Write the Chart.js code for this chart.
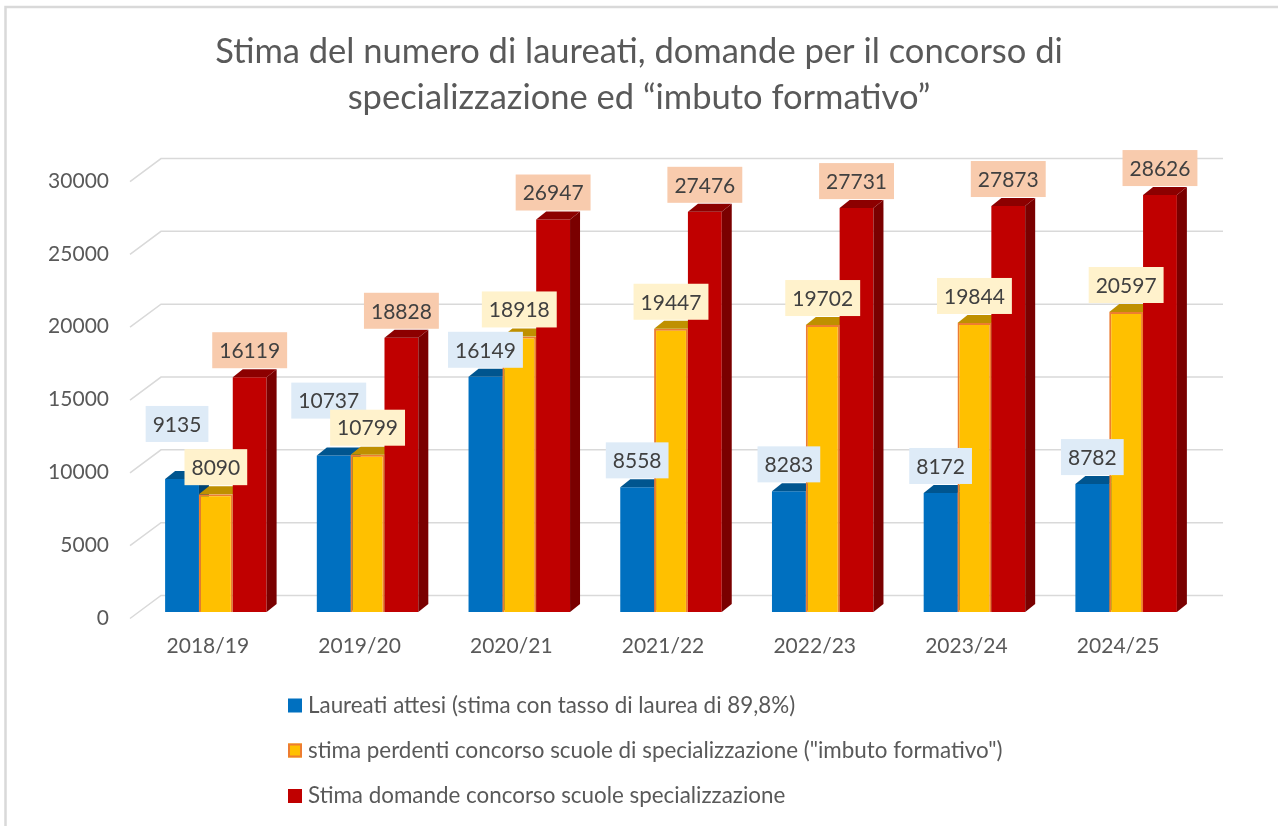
<!DOCTYPE html>
<html><head><meta charset="utf-8">
<script src="https://cdn.jsdelivr.net/npm/chart.js@4"></script>
<style>html,body{margin:0;padding:0;background:#fff}#wrap{position:relative;width:1278px;height:826px}</style>
</head><body><div id="wrap"><canvas id="c"></canvas></div>
<script>
// ---- data ----
const categories = ['2018/19','2019/20','2020/21','2021/22','2022/23','2023/24','2024/25'];
const laureatiAttesi = [9135, 10737, 16149, 8558, 8283, 8172, 8782];
const perdentiConcorso = [8090, 10799, 18918, 19447, 19702, 19844, 20597];
const domandeConcorso = [16119, 18828, 26947, 27476, 27731, 27873, 28626];
const seriesLabels = [
  'Laureati attesi (stima con tasso di laurea di 89,8%)',
  'stima perdenti concorso scuole di specializzazione ("imbuto formativo")',
  'Stima domande concorso scuole specializzazione'
];
const titleLines = ['Stima del numero di laureati, domande per il concorso di', 'specializzazione ed \u201cimbuto formativo\u201d'];
const yTickValues = [0, 5000, 10000, 15000, 20000, 25000, 30000];
const yTickLabels = ['0', '5000', '10000', '15000', '20000', '25000', '30000'];

// ---- style ----
const FONT = 'Lato, "Open Sans", sans-serif';
const faces = [
  {front:'#0070c0', top:'#00558f', side:'#004474', label:'#deebf7', border:'#0070c0', bw:0},
  {front:'#ffc000', top:'#bf9000', side:'#a67c00', label:'#fff2cc', border:'#ed7d31', bw:2},
  {front:'#c00000', top:'#8c0000', side:'#7a0000', label:'#f8cbad', border:'#c00000', bw:0}
];
const DX = 10, DY = 8;

function poly(ctx, pts){ctx.beginPath();ctx.moveTo(pts[0][0],pts[0][1]);for(let k=1;k<pts.length;k++)ctx.lineTo(pts[k][0],pts[k][1]);ctx.closePath();ctx.fill();}
function overlap(a,b){return a.x<b.x+b.w && b.x<a.x+a.w && a.y<b.y+b.h && b.y<a.y+a.h;}

const bars3d = {
  id:'bars3d',
  beforeDatasetsDraw(chart){
    const ctx = chart.ctx, ys = chart.scales.y, area = chart.chartArea;
    ctx.save();
    // back wall gridlines with perspective
    ctx.strokeStyle = '#d9d9d9'; ctx.lineWidth = 1.5;
    ys.ticks.forEach(t => {
      const py = ys.getPixelForValue(t.value);
      ctx.beginPath();
      ctx.moveTo(area.left - 10, py + 6.5);
      ctx.lineTo(area.left + 21, py - 16.5);
      ctx.lineTo(area.right + 21, py - 16.5);
      ctx.stroke();
    });
    const metas = chart.data.datasets.map((d,i) => chart.getDatasetMeta(i));
    for (let i = 0; i < categories.length; i++) {
      metas.forEach((m, d) => {
        const el = m.data[i];
        const p = el.getProps(['x','y','base','width'], true);
        const l = p.x - p.width/2, r = p.x + p.width/2;
        el.draw(ctx, area);
        ctx.fillStyle = faces[d].side;
        poly(ctx, [[r,p.y],[r+DX,p.y-DY],[r+DX,p.base-DY],[r,p.base]]);
        ctx.fillStyle = faces[d].top;
        poly(ctx, [[l,p.y],[r,p.y],[r+DX,p.y-DY],[l+DX,p.y-DY]]);
      });
    }
    // data labels
    ctx.font = '21px ' + FONT;
    ctx.textAlign = 'center'; ctx.textBaseline = 'middle';
    for (let i = 0; i < categories.length; i++) {
      const boxes = metas.map((m, d) => {
        const p = m.data[i].getProps(['x','y'], true);
        const v = chart.data.datasets[d].data[i];
        const txt = String(v);
        const w = ctx.measureText(txt).width + 14, h = 36;
        return {txt, w, h, x: p.x - w/2, y: p.y - 9 - h, d};
      });
      if (overlap(boxes[0], boxes[1])) { boxes[0].y -= 28; boxes[0].x -= 5; }
      boxes.forEach(b => {
        ctx.fillStyle = faces[b.d].label;
        ctx.fillRect(b.x, b.y, b.w, b.h);
        ctx.fillStyle = '#404040';
        ctx.fillText(b.txt, b.x + b.w/2, b.y + b.h/2 + 1);
      });
    }
    ctx.restore();
    return false;
  },
  afterDraw(chart){
    const ctx = chart.ctx;
    ctx.save();
    // outer frame (top and left visible)
    ctx.strokeStyle = '#d9d9d9'; ctx.lineWidth = 2.5;
    ctx.beginPath(); ctx.moveTo(5.5, 826); ctx.lineTo(5.5, 7); ctx.lineTo(1278, 7); ctx.stroke();
    // legend
    ctx.font = '22.4px ' + FONT; ctx.textAlign = 'left'; ctx.textBaseline = 'middle';
    const rowY = [705.5, 750.5, 796];
    chart.data.datasets.forEach((ds, d) => {
      const cy = rowY[d];
      ctx.fillStyle = ds.backgroundColor;
      ctx.fillRect(288, cy - 7, 14, 14);
      if (ds.borderWidth) { ctx.strokeStyle = ds.borderColor; ctx.lineWidth = 2; ctx.strokeRect(289, cy - 6, 12, 12); }
      ctx.fillStyle = '#595959';
      ctx.fillText(ds.label, 308, cy);
    });
    ctx.restore();
  }
};

new Chart(document.getElementById('c'), {
  type: 'bar',
  data: {
    labels: categories,
    datasets: [laureatiAttesi, perdentiConcorso, domandeConcorso].map((vals, d) => ({
      label: seriesLabels[d], data: vals,
      backgroundColor: faces[d].front, borderColor: faces[d].border, borderWidth: faces[d].bw,
      barPercentage: 1.0, categoryPercentage: 0.669
    }))
  },
  options: {
    responsive: true, maintainAspectRatio: false, animation: false,
    layout: {padding: {left: 0, right: 0, top: 0, bottom: 168}},
    plugins: {
      legend: {display: false}, tooltip: {enabled: false},
      title: {display: true, text: titleLines, color: '#595959',
        font: {family: FONT, size: 34.5, weight: 'normal', lineHeight: 1.334},
        padding: {top: 29, bottom: 54}}
    },
    scales: {
      x: {grid: {display: false, drawTicks: false}, border: {display: false},
        ticks: {color: '#595959', font: {family: FONT, size: 21}, padding: 22, labelOffset: -8, autoSkip: false, maxRotation: 0},
        afterFit: s => { s.height = 46; }},
      y: {min: 0, max: 30000, grid: {display: false, drawTicks: false}, border: {display: false},
        afterBuildTicks: s => { s.ticks = yTickValues.map(v => ({value: v})); },
        ticks: {color: '#595959', font: {family: FONT, size: 21}, padding: 31, labelOffset: 6,
          callback: (v) => yTickLabels[yTickValues.indexOf(v)]},
        afterFit: s => { s.width = 140; }},
      spacer: {position: 'right', display: true, grid: {display: false, drawTicks: false}, border: {display: false},
        ticks: {display: false}, afterFit: s => { s.width = 76; }}
    }
  },
  plugins: [bars3d]
});
</script></body></html>
